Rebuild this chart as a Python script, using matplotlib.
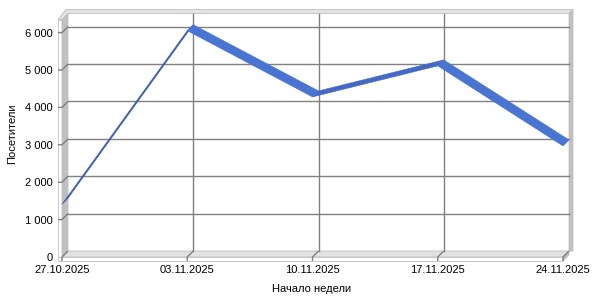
import matplotlib
matplotlib.use('Agg')
import matplotlib.pyplot as plt
import numpy as np
from matplotlib.patches import Polygon
from matplotlib.transforms import IdentityTransform, offset_copy

plt.rcParams['font.family'] = ['Liberation Sans', 'DejaVu Sans']
plt.rcParams['font.size'] = 8

weeks = ['27.10.2025', '03.11.2025', '10.11.2025', '17.11.2025', '24.11.2025']
visitors = [1410, 6050, 4280, 5110, 2970]
y_ticks = [0, 1000, 2000, 3000, 4000, 5000, 6000]
y_labels = ['0', '1 000', '2 000', '3 000', '4 000', '5 000', '6 000']
y_top = 6350

DX, DY = 6, 6          # depth offset in pixels
GRID = '#808080'
WALL = '#c0c0c0'
FACE = '#e2e2e2'

fig = plt.figure(figsize=(6, 3), dpi=100)
ax = fig.add_axes([62 / 600, 43 / 300, 501 / 600, 237.5 / 300])
ax.set_xlim(0, len(weeks) - 1)
ax.set_ylim(0, y_top)
ax.patch.set_visible(False)
for s in ax.spines.values():
    s.set_visible(False)
ax.set_xticks(range(len(weeks)), weeks)
ax.set_yticks(y_ticks, y_labels)
ax.tick_params(axis='x', length=0, pad=6)
ax.tick_params(axis='y', length=0, pad=7)

ident = IdentityTransform()
back = offset_copy(ax.transData, fig=fig, x=DX, y=DY, units='dots')


def front(x, y):
    return np.array(ax.transData.transform((x, y)))


def poly(pts, fc, ec=WALL, z=1, lw=0.6):
    ax.add_patch(Polygon(pts, closed=True, facecolor=fc, edgecolor=ec, lw=lw,
                         transform=ident, clip_on=False, zorder=z))


def seg(pts, color=GRID, z=2, lw=1):
    pts = np.array(pts)
    ax.plot(pts[:, 0], pts[:, 1], color=color, lw=lw, transform=ident,
            clip_on=False, zorder=z, solid_capstyle='butt')


n = len(weeks) - 1
off = np.array([DX, DY])
a = front(0, 0)
b = front(0, y_top)
c = front(n, 0)
d = front(n, y_top)
t = 4  # wall thickness in px

# left wall: front face, inner side
poly([a + [-t, -t], b + [-t, 0], b, a + [0, -t]], 'white', z=1)
poly([a, b, b + off, a + off], WALL, ec=WALL, z=1)
# back wall top and right edge
poly([b + [-t, 0], b, b + off, d + off, d + off + [t, t], b + off + [-2, t]], FACE, z=1)
poly([d + off, d + off + [t, t], c + off + [t, 0], c + off], WALL, ec=WALL, z=1)
# floor: top face, front face, right face
poly([a, c, c + off, a + off], FACE, z=1)
poly([a + [-t, 0], c, c + [0, -t], a + [-t, -t]], 'white', z=1)
poly([c, c + off, c + off + [0, -t], c + [0, -t]], WALL, z=1)

# horizontal gridlines on the back wall + connectors across the left wall + ticks
for v in y_ticks[1:]:
    ax.plot([0, n], [v, v], color=GRID, lw=1, transform=back, clip_on=False, zorder=2)
    p = front(0, v)
    seg([p + [-t, 0], p, p + off])
# vertical gridlines on the back wall + connectors across the floor
for i in range(1, n):
    ax.plot([i, i], [0, y_top], color=GRID, lw=1, transform=back, clip_on=False, zorder=2)
for i in range(0, n + 1):
    p = front(i, 0)
    seg([p + [0, -t], p, p + off])

# ribbon line
pts = [front(i, v) for i, v in enumerate(visitors)]
for i in range(n):
    p0, p1 = pts[i], pts[i + 1]
    dvec = p1 - p0
    cross = dvec[0] * DY - dvec[1] * DX
    if cross < 0:
        col = '#3a5bab'
    elif dvec[1] > 0:
        col = '#4468c4'
    else:
        col = '#4a74d2'
    poly([p0, p1, p1 + off, p0 + off], col, ec=col, z=5, lw=0.4)

fig.text(12 / 600, 1 - 134 / 300, 'Посетители', rotation=90, ha='center', va='center')
fig.text(312 / 600, 1 - 289 / 300, 'Начало недели', ha='center', va='center')

fig.savefig('out.png', dpi=100)
